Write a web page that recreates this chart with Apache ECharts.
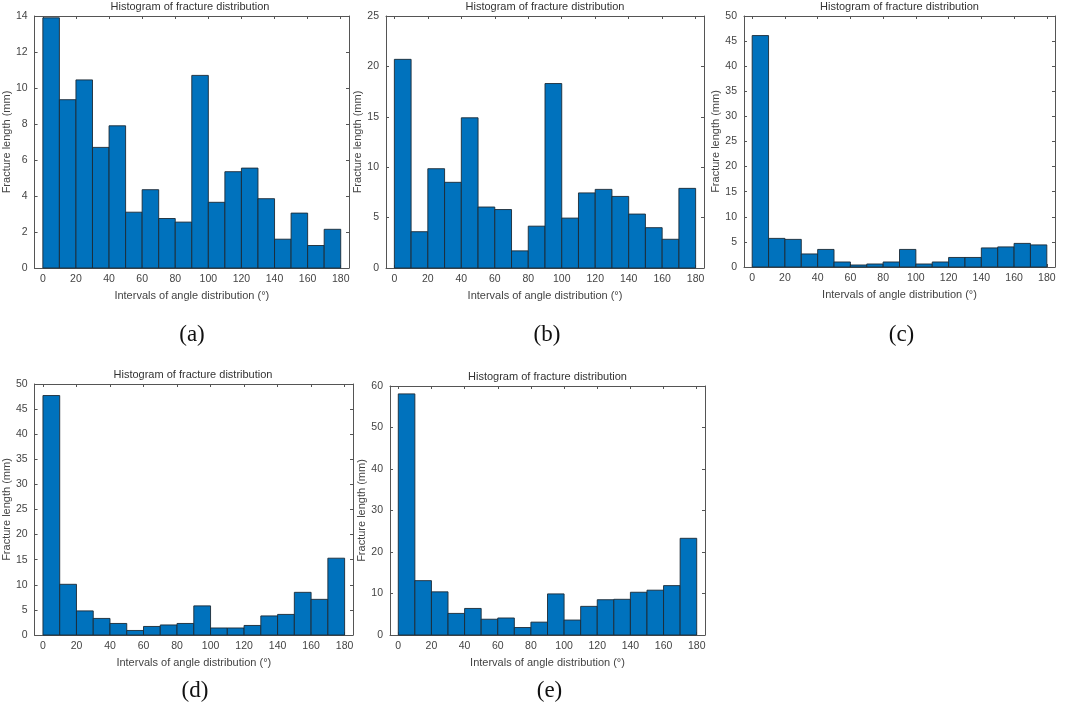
<!DOCTYPE html>
<html>
<head>
<meta charset="UTF-8">
<title>Histogram of fracture distribution</title>
<script src="https://cdn.jsdelivr.net/npm/echarts@6/dist/echarts.min.js"></script>
<style>
  html, body { margin: 0; padding: 0; background: #fff; }
  #main { width: 1065px; height: 719px; }
</style>
</head>
<body>
<div id="main"></div>
<script>
// bin edges, 10 degree bins from 0 to 180
var binStarts = [0, 10, 20, 30, 40, 50, 60, 70, 80, 90, 100, 110, 120, 130, 140, 150, 160, 170];
var xTicks = [0, 20, 40, 60, 80, 100, 120, 140, 160, 180];

// fracture length per bin (mm), one list per panel
var lengthA = [13.9, 9.35, 10.45, 6.7, 7.9, 3.1, 4.35, 2.75, 2.55, 10.7, 3.65, 5.35, 5.55, 3.85, 1.6, 3.05, 1.25, 2.15];
var lengthB = [20.7, 3.6, 9.85, 8.5, 14.9, 6.05, 5.8, 1.7, 4.15, 18.3, 4.95, 7.45, 7.8, 7.1, 5.35, 4.0, 2.85, 7.9];
var lengthC = [46.1, 5.7, 5.5, 2.6, 3.5, 1.0, 0.4, 0.6, 1.0, 3.5, 0.6, 1.0, 1.9, 1.9, 3.8, 4.0, 4.7, 4.4];
var lengthD = [47.7, 10.1, 4.8, 3.3, 2.3, 0.9, 1.7, 2.0, 2.3, 5.8, 1.4, 1.4, 1.9, 3.8, 4.1, 8.5, 7.1, 15.3];
var lengthE = [58.1, 13.1, 10.4, 5.2, 6.4, 3.8, 4.1, 1.8, 3.1, 9.9, 3.6, 6.9, 8.5, 8.6, 10.3, 10.8, 11.9, 23.3];

var captions = ['(a)', '(b)', '(c)', '(d)', '(e)'];
var yMax = [14, 25, 50, 50, 60];
var yStep = [2, 5, 5, 5, 10];
var allLengths = [lengthA, lengthB, lengthC, lengthD, lengthE];

// panel boxes in pixels
var boxes = [
  {left: 31,  top: 16,  width: 318, height: 252},
  {left: 386, top: 16,  width: 318, height: 252},
  {left: 744, top: 16,  width: 311, height: 251},
  {left: 33,  top: 384, width: 320, height: 251},
  {left: 390, top: 386, width: 315, height: 249}
];
var captionTop = [318, 318, 318, 674, 674];

var axisColor = '#555';
var labelColor = '#444';
var sans = 'Arial, Liberation Sans';

var chart = echarts.init(document.getElementById('main'));

var grids = [], xAxes = [], yAxes = [], series = [], titles = [];

function boxLine() {
  return {show: true, onZero: false, lineStyle: {color: axisColor, width: 1}};
}

boxes.forEach(function (b, i) {
  grids.push({left: b.left, top: b.top, width: b.width, height: b.height, containLabel: false});

  // bottom axis with labels
  xAxes.push({
    type: 'value', gridIndex: i, min: -5, max: 185, position: 'bottom',
    name: 'Intervals of angle distribution (°)', nameLocation: 'middle', nameGap: 22,
    nameTextStyle: {color: labelColor, fontSize: 11, fontFamily: sans},
    axisLine: boxLine(),
    axisTick: {show: true, inside: true, length: 3, customValues: xTicks, lineStyle: {color: axisColor}},
    axisLabel: {customValues: xTicks, color: labelColor, fontSize: 10.5, margin: 6, fontFamily: sans},
    splitLine: {show: false}
  });
  // top mirror axis (box + ticks)
  xAxes.push({
    type: 'value', gridIndex: i, min: -5, max: 185, position: 'top',
    axisLine: boxLine(),
    axisTick: {show: true, inside: true, length: 3, customValues: xTicks, lineStyle: {color: axisColor}},
    axisLabel: {show: false},
    splitLine: {show: false}
  });

  yAxes.push({
    type: 'value', gridIndex: i, min: 0, max: yMax[i], interval: yStep[i], position: 'left',
    name: 'Fracture length (mm)', nameLocation: 'middle', nameGap: 17 + String(yMax[i]).length * 2,
    nameTextStyle: {color: labelColor, fontSize: 11, fontFamily: sans},
    axisLine: boxLine(),
    axisTick: {show: true, inside: true, length: 3, lineStyle: {color: axisColor}},
    axisLabel: {color: labelColor, fontSize: 10.5, margin: 7, fontFamily: sans},
    splitLine: {show: false}
  });
  yAxes.push({
    type: 'value', gridIndex: i, min: 0, max: yMax[i], interval: yStep[i], position: 'right',
    axisLine: boxLine(),
    axisTick: {show: true, inside: true, length: 3, lineStyle: {color: axisColor}},
    axisLabel: {show: false},
    splitLine: {show: false}
  });

  var data = binStarts.map(function (s, k) { return [s, s + 10, allLengths[i][k]]; });
  series.push({
    type: 'custom',
    xAxisIndex: i * 2,
    yAxisIndex: i * 2,
    data: data,
    renderItem: function (params, api) {
      var p0 = api.coord([api.value(0), api.value(2)]);
      var p1 = api.coord([api.value(1), 0]);
      return {
        type: 'rect',
        shape: {x: p0[0], y: p0[1], width: p1[0] - p0[0], height: p1[1] - p0[1]},
        style: {fill: '#0072BD', stroke: '#1c2a36', lineWidth: 0.9}
      };
    },
    encode: {x: [0, 1], y: 2}
  });

  titles.push({
    text: 'Histogram of fracture distribution',
    left: b.left + b.width / 2, top: b.top - 15, textAlign: 'center', padding: 0,
    textStyle: {fontSize: 11, fontWeight: 'normal', color: '#333', fontFamily: sans}
  });
  titles.push({
    text: captions[i],
    left: b.left + b.width / 2 - 3, top: captionTop[i], textAlign: 'center',
    textStyle: {fontSize: 23, fontWeight: 'normal', color: '#111', fontFamily: 'Liberation Serif, Times New Roman, serif'}
  });
});

chart.setOption({
  backgroundColor: '#fff',
  animation: false,
  title: titles,
  grid: grids,
  xAxis: xAxes,
  yAxis: yAxes,
  series: series
});
</script>
</body>
</html>
